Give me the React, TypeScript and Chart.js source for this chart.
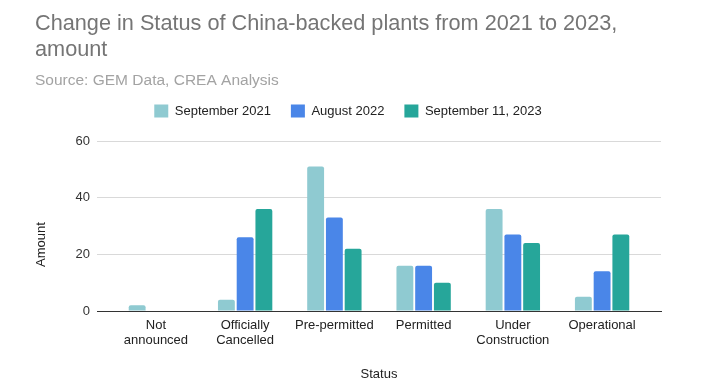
import React, { useEffect, useRef } from 'react';
import { Chart, registerables } from 'chart.js';

Chart.register(...registerables);

const categories = ['Not announced', 'Officially Cancelled', 'Pre-permitted', 'Permitted', 'Under Construction', 'Operational'];
const seriesNames = ['September 2021', 'August 2022', 'September 11, 2023'];
const sep2021 = [2, 4, 51, 16, 36, 5];
const aug2022 = [0, 26, 33, 16, 27, 14];
const sep2023 = [0, 36, 22, 10, 24, 27];
const yTickValues = [0, 20, 40, 60];
const titleLines = ['Change in Status of China-backed plants from 2021 to 2023,', 'amount'];
const subtitleText = 'Source: GEM Data, CREA Analysis';
const xAxisTitle = 'Status';
const yAxisTitle = 'Amount';
const seriesColors = ['#8fcad1', '#4a86e8', '#26a69a'];

const FONT = "'Liberation Sans', Arial, Helvetica, sans-serif";
const TICK_LINE_HEIGHT = 1.15;
const X_TICK_PADDING = 7;

export default function App() {
  const ref = useRef<HTMLCanvasElement>(null);

  useEffect(() => {
    const series = [sep2021, aug2022, sep2023];
    const legendSpacer = {
      id: 'legendSpacer',
      beforeInit(chart: any) {
        const legend = chart.legend;
        if (!legend) return;
        const origFit = legend.fit;
        legend.fit = function () {
          origFit.call(this);
          this.height += 13.5;
        };
      },
    };
    const yTitlePlugin = {
      id: 'yTitlePlugin',
      afterDraw(chart: any) {
        const ctx = chart.ctx;
        const ys = chart.scales.y;
        const xs = chart.scales.x;
        const labelsBottom = xs.top + X_TICK_PADDING + 2 * 13 * TICK_LINE_HEIGHT;
        const cy = (chart.chartArea.top + labelsBottom) / 2;
        const cx = ys.left + 6.5;
        ctx.save();
        ctx.translate(cx, cy);
        ctx.rotate(-Math.PI / 2);
        ctx.textAlign = 'center';
        ctx.textBaseline = 'middle';
        ctx.fillStyle = '#222222';
        ctx.font = `13px ${FONT}`;
        ctx.fillText(yAxisTitle, 0, 0);
        ctx.restore();
      },
    };
    const chart = new Chart(ref.current as HTMLCanvasElement, {
      type: 'bar',
      data: {
        datasets: series.map((vals, si) => ({
          label: seriesNames[si],
          data: vals.map((v, i) => ({ x: i, y: v })),
          backgroundColor: seriesColors[si],
          borderRadius: 2,
          borderSkipped: 'start',
          barPercentage: 0.9,
          categoryPercentage: 0.63,
        })),
      },
      plugins: [legendSpacer, yTitlePlugin],
      options: {
        animation: false,
        responsive: false,
        maintainAspectRatio: false,
        font: { family: FONT },
        layout: { padding: { left: 35, right: 50, top: 0, bottom: 0 } },
        plugins: {
          title: {
            display: true,
            text: titleLines,
            align: 'start',
            color: '#757575',
            font: { family: FONT, size: 21.7, weight: 'normal', lineHeight: 1.2 },
            padding: { top: 11, bottom: 0 },
          },
          subtitle: {
            display: true,
            text: subtitleText,
            align: 'start',
            color: '#a3a3a3',
            font: { family: FONT, size: 15.5, weight: 'normal', lineHeight: 1.2 },
            padding: { top: 8.7, bottom: -5.8 },
          },
          legend: {
            display: true,
            position: 'top',
            align: 'center',
            labels: {
              boxWidth: 14,
              boxHeight: 13,
              padding: 20,
              color: '#222222',
              font: { family: FONT, size: 13 },
            },
          },
          tooltip: { enabled: false },
        },
        scales: {
          x: {
            type: 'linear',
            min: -0.66,
            max: 5.66,
            offset: false,
            afterBuildTicks: (s: any) => {
              s.ticks = categories.map((_, i) => ({ value: i }));
            },
            ticks: {
              autoSkip: false,
              maxRotation: 0,
              minRotation: 0,
              padding: X_TICK_PADDING,
              color: '#222222',
              font: { family: FONT, size: 13, lineHeight: TICK_LINE_HEIGHT },
              callback: (v: any) => {
                const c = categories[Number(v)];
                return c ? c.split(' ') : '';
              },
            },
            grid: { display: false, offset: false, drawTicks: false },
            border: { display: true, color: '#333333', width: 1 },
            title: {
              display: true,
              text: xAxisTitle,
              color: '#222222',
              font: { family: FONT, size: 13, lineHeight: 1.2 },
              padding: { top: 11.3, bottom: 7.2 },
            },
          },
          y: {
            min: 0,
            max: 60,
            afterBuildTicks: (s: any) => {
              s.ticks = yTickValues.map((v) => ({ value: v }));
            },
            afterFit: (s: any) => {
              s.width = 62;
            },
            ticks: {
              padding: 7,
              color: '#333333',
              font: { family: FONT, size: 13 },
            },
            grid: {
              drawTicks: false,
              color: (ctx: any) => (ctx.tick && ctx.tick.value === 0 ? '#333333' : '#d9d9d9'),
              lineWidth: 1,
            },
            border: { display: false },
            title: { display: false },
          },
        },
      },
    } as any);
    return () => chart.destroy();
  }, []);

  return (
    <div style={{ position: 'absolute', left: 0, top: 0, width: 711, height: 389, background: '#ffffff' }}>
      <canvas ref={ref} width={711} height={389} style={{ display: 'block' }} />
    </div>
  );
}
